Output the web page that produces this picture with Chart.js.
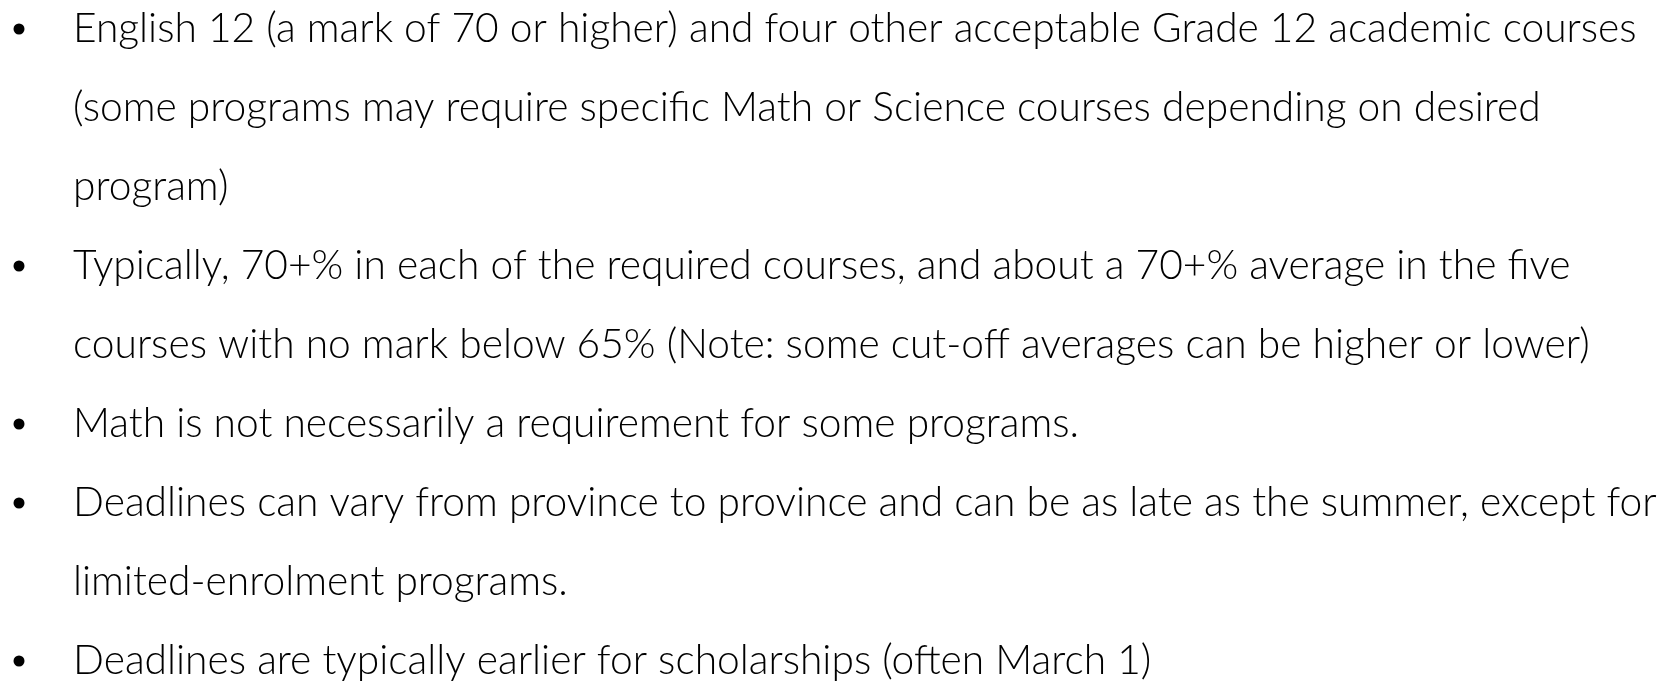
<!DOCTYPE html>
<html>
<head>
<meta charset="utf-8">
<script src="https://cdn.jsdelivr.net/npm/chart.js@4.4.0/dist/chart.umd.min.js"></script>
<style>
  html, body { margin: 0; padding: 0; background: #fff; }
  canvas { display: block; }
</style>
</head>
<body>
<canvas id="notes" width="1669" height="681"></canvas>
<script>
// one entry per printed line, top to bottom
const lines = [
  'English 12 (a mark of 70 or higher) and four other acceptable Grade 12 academic courses',
  '(some programs may require specific Math or Science courses depending on desired',
  'program)',
  'Typically, 70+% in each of the required courses, and about a 70+% average in the five',
  'courses with no mark below 65% (Note: some cut-off averages can be higher or lower)',
  'Math is not necessarily a requirement for some programs.',
  'Deadlines can vary from province to province and can be as late as the summer, except for',
  'limited-enrolment programs.',
  'Deadlines are typically earlier for scholarships (often March 1)'
]
// lines that start a new bullet
const bulletRows = [0, 3, 5, 6, 8]

const family = 'Lato'
const weight = '300'

// size the font so the first line is as wide as in the slide
const probe = document.createElement('canvas').getContext('2d')
probe.font = weight + ' 100px ' + family
const fontSize = 100 * 1564 / probe.measureText(lines[0]).width

const bullets = bulletRows.map(i => ({ x: 0, y: lines[i] }))

new Chart(document.getElementById('notes'), {
  type: 'scatter',
  data: {
    datasets: [{
      data: bullets,
      pointRadius: 5.5,
      pointHoverRadius: 5.5,
      backgroundColor: '#000',
      borderWidth: 0,
      clip: false
    }]
  },
  options: {
    responsive: false,
    animation: false,
    events: [],
    devicePixelRatio: 1,
    layout: { padding: { left: 19, right: 0, top: 29, bottom: 20 } },
    plugins: {
      legend: { display: false },
      tooltip: { enabled: false },
      title: { display: false }
    },
    scales: {
      x: { type: 'linear', min: 0, max: 1, display: false },
      y: {
        type: 'category',
        labels: lines,
        offset: false,
        grid: { display: false, drawTicks: false },
        border: { display: false },
        // the lines sit over the plot area, so the axis takes no room
        afterFit: scale => {
          scale.width = 0
          scale.paddingTop = 0
          scale.paddingBottom = 0
        },
        ticks: {
          mirror: true,
          padding: 54,
          autoSkip: false,
          color: '#000',
          font: { family: family, size: fontSize, weight: weight }
        }
      }
    }
  }
})
</script>
</body>
</html>
